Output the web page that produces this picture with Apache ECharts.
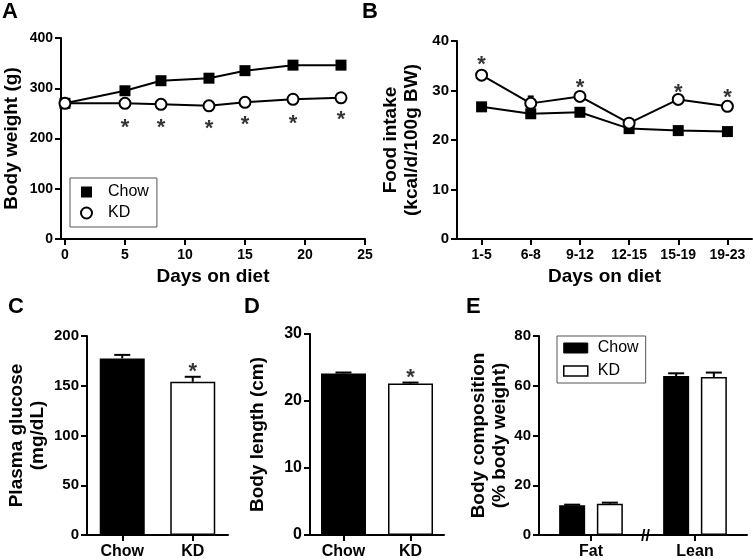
<!DOCTYPE html>
<html>
<head>
<meta charset="utf-8">
<script src="https://cdn.jsdelivr.net/npm/echarts@6/dist/echarts.min.js"></script>
<style>html,body{margin:0;padding:0;background:#fff}#c{width:753px;height:560px}</style>
</head>
<body>
<div id="c"></div>
<script>
// ---- Panel A: body weight ----
const daysA = [0, 5, 8, 12, 15, 19, 23];
const weightChow = [270, 295, 315, 320, 335, 346, 346];
const weightKD = [270, 270, 268, 265, 272, 278, 281];
const weightStarDays = [5, 8, 12, 15, 19, 23];
const weightStarY = [233, 233, 231, 239, 240, 248];
const daysTicks = [0, 5, 10, 15, 20, 25];

// ---- Panel B: food intake ----
const periods = ['1-5', '6-8', '9-12', '12-15', '15-19', '19-23'];
const intakeChow = [26.7, 25.3, 25.6, 22.3, 21.9, 21.7];
const intakeKD = [33.1, 27.4, 28.8, 23.4, 28.2, 26.8];
const intakeChowErr = [0.5, 0.5, 0.5, 0.4, 0.4, 0.4];
const intakeKDErr = [0.8, 1.4, 0.7, 0.6, 0.7, 0.6];
const intakeStarPeriods = ['1-5', '9-12', '15-19', '19-23'];
const intakeStarY = [36.4, 31.8, 30.7, 29.8];

// ---- Panel C: plasma glucose ----
const groups = ['Chow', 'KD'];
const glucose = [177.5, 154];
const glucoseErr = [3.5, 5];
const glucoseStarY = [null, 170];

// ---- Panel D: body length ----
const bodyLength = [24.1, 22.6];
const bodyLengthErr = [0.15, 0.15];
const lengthStarY = [null, 24.4];

// ---- Panel E: body composition ----
const compartments = ['Fat', 'Lean'];
const compChow = [12.0, 63.9];
const compKD = [12.6, 63.5];
const compChowErr = [0.2, 1.1];
const compKDErr = [0.4, 1.8];

const FONT = '"Liberation Sans", Arial, Helvetica, sans-serif';
const chowStyle = { color: '#000', borderColor: '#000', borderWidth: 1.5 };
const kdStyle = { color: '#fff', borderColor: '#000', borderWidth: 1.5 };
const groupStyles = [chowStyle, kdStyle];

function axisCommon(labelSize) {
  return {
    axisLine: { show: true, onZero: false, lineStyle: { color: '#000', width: 2 } },
    axisTick: { show: true, length: 6, lineStyle: { color: '#000', width: 2 } },
    axisLabel: { color: '#000', fontFamily: FONT, fontWeight: 'bold', fontSize: labelSize, margin: 8 },
    splitLine: { show: false },
    nameTextStyle: { color: '#000', fontFamily: FONT, fontWeight: 'bold', fontSize: 19, lineHeight: 21 }
  };
}
function yAxisDef(gi, max, interval, name, gap, labelSize) {
  const a = axisCommon(labelSize);
  return Object.assign(a, {
    type: 'value', gridIndex: gi, min: 0, max: max, interval: interval,
    name: name, nameLocation: 'middle', nameRotate: 90, nameGap: gap
  });
}
function errRender(offsetPx, capHalf) {
  return function (params, api) {
    const x = api.value(0), y = api.value(1), e = api.value(2);
    const p0 = api.coord([x, y]);
    const p1 = api.coord([x, y + e]);
    const cx = p0[0] + offsetPx;
    const st = { stroke: '#000', lineWidth: 2 };
    return {
      type: 'group', children: [
        { type: 'line', shape: { x1: cx, y1: p0[1], x2: cx, y2: p1[1] }, style: st },
        { type: 'line', shape: { x1: cx - capHalf, y1: p1[1], x2: cx + capHalf, y2: p1[1] }, style: st }
      ]
    };
  };
}
function starSeries(xi, yi, data) {
  return {
    type: 'scatter', xAxisIndex: xi, yAxisIndex: yi, data: data,
    symbol: 'circle', symbolSize: 1, itemStyle: { color: 'rgba(0,0,0,0)' },
    silent: true, z: 10,
    label: { show: true, position: 'inside', formatter: '*', color: '#000',
      fontFamily: FONT, fontWeight: 'bold', fontSize: 22, offset: [0, 6] }
  };
}

const barW = 26, barGapPct = 45;
const eOff = (barW + barW * barGapPct / 100) / 2;

const xA = Object.assign(axisCommon(14), {
  type: 'value', gridIndex: 0, min: -0.33, max: 25,
  name: 'Days on diet', nameLocation: 'middle', nameGap: 27
});
xA.axisTick.customValues = daysTicks;
xA.axisLabel.customValues = daysTicks;
xA.axisLabel.margin = 9;

const xB = Object.assign(axisCommon(14), {
  type: 'category', gridIndex: 1, data: periods, boundaryGap: true,
  name: 'Days on diet', nameLocation: 'middle', nameGap: 27
});
xB.axisTick.alignWithLabel = true;
xB.axisLabel.margin = 9;

function barX(gi, cats) {
  const a = Object.assign(axisCommon(16), { type: 'category', gridIndex: gi, data: cats, boundaryGap: true });
  a.axisTick.alignWithLabel = true;
  a.axisLabel.margin = 9;
  return a;
}

const option = {
  animation: false,
  backgroundColor: '#fff',
  textStyle: { fontFamily: FONT },
  title: [
    { text: 'A', left: 2, top: 1 },
    { text: 'B', left: 362, top: 1 },
    { text: 'C', left: 8, top: 296 },
    { text: 'D', left: 244, top: 296 },
    { text: 'E', left: 466, top: 296 }
  ].map(t => Object.assign(t, { padding: 0, textStyle: { fontFamily: FONT, fontWeight: 'bold', fontSize: 22, color: '#000' } })),
  grid: [
    { left: 59, top: 38, width: 306, height: 201 },
    { left: 457, top: 41, width: 295, height: 198 },
    { left: 87, top: 336, width: 141, height: 201 },
    { left: 310, top: 334, width: 134, height: 201 },
    { left: 539, top: 336, width: 208, height: 200 }
  ],
  xAxis: [xA, xB, barX(2, groups), barX(3, groups), barX(4, compartments)],
  yAxis: [
    yAxisDef(0, 400, 100, 'Body weight (g)', 39, 14),
    yAxisDef(1, 40, 10, 'Food intake\n(kcal/d/100g BW)', 35, 15),
    yAxisDef(2, 200, 50, 'Plasma glucose\n(mg/dL)', 39, 15),
    yAxisDef(3, 30, 10, 'Body length (cm)', 42, 16),
    yAxisDef(4, 80, 20, 'Body composition\n(% body weight)', 28, 15)
  ],
  legend: [
    {
      left: 70, top: 178, orient: 'vertical',
      borderColor: '#555', borderWidth: 1, borderRadius: 0,
      padding: [5, 8, 5, 10], itemGap: 3, itemWidth: 11, itemHeight: 11,
      textStyle: { fontFamily: FONT, fontSize: 16, color: '#000', lineHeight: 18, padding: [0, 0, 0, 11] },
      selectedMode: false,
      data: [
        { name: 'Chow', icon: 'rect', itemStyle: { color: '#000', borderColor: '#000', borderWidth: 0 } },
        { name: 'KD', icon: 'circle', itemStyle: { color: '#fff', borderColor: '#000', borderWidth: 2 } }
      ]
    },
    {
      left: 557, top: 336, orient: 'vertical',
      borderColor: '#555', borderWidth: 1, borderRadius: 0,
      padding: [3, 7, 3, 6], itemGap: 5, itemWidth: 24, itemHeight: 10,
      textStyle: { fontFamily: FONT, fontSize: 16, color: '#000', lineHeight: 18, padding: [0, 0, 0, 5] },
      selectedMode: false,
      data: [
        { name: 'Chow', icon: 'rect', itemStyle: { color: '#000', borderColor: '#000', borderWidth: 1 } },
        { name: 'KD', icon: 'rect', itemStyle: { color: '#fff', borderColor: '#000', borderWidth: 1.5 } }
      ]
    }
  ],
  graphic: [
    { type: 'text', left: 641, top: 529, silent: true,
      style: { text: '//', font: 'bold 16px "Liberation Sans", Arial, sans-serif', fill: '#000' } }
  ],
  series: [
    // A
    { name: 'Chow', type: 'line', xAxisIndex: 0, yAxisIndex: 0,
      data: daysA.map((d, i) => [d, weightChow[i]]),
      symbol: 'rect', symbolSize: 11, lineStyle: { color: '#000', width: 2 },
      itemStyle: { color: '#000' }, z: 3 },
    { name: 'KD', type: 'line', xAxisIndex: 0, yAxisIndex: 0,
      data: daysA.map((d, i) => [d, weightKD[i]]),
      symbol: 'circle', symbolSize: 11, showAllSymbol: true, lineStyle: { color: '#000', width: 2 },
      itemStyle: { color: '#fff', borderColor: '#000', borderWidth: 2 }, z: 4 },
    starSeries(0, 0, weightStarDays.map((d, i) => [d, weightStarY[i]])),
    // B error bars (under markers)
    { type: 'custom', xAxisIndex: 1, yAxisIndex: 1, z: 1, silent: true,
      renderItem: errRender(0, 3),
      data: periods.map((p, i) => [i, intakeChow[i], intakeChowErr[i]]) },
    { type: 'custom', xAxisIndex: 1, yAxisIndex: 1, z: 1, silent: true,
      renderItem: errRender(0, 3),
      data: periods.map((p, i) => [i, intakeKD[i], intakeKDErr[i]]) },
    { name: 'Chow B', type: 'line', xAxisIndex: 1, yAxisIndex: 1, data: intakeChow,
      symbol: 'rect', symbolSize: 11, lineStyle: { color: '#000', width: 2 },
      itemStyle: { color: '#000' }, z: 3 },
    { name: 'KD B', type: 'line', xAxisIndex: 1, yAxisIndex: 1, data: intakeKD,
      symbol: 'circle', symbolSize: 11, lineStyle: { color: '#000', width: 2 },
      itemStyle: { color: '#fff', borderColor: '#000', borderWidth: 2 }, z: 4 },
    starSeries(1, 1, intakeStarPeriods.map((p, i) => [p, intakeStarY[i]])),
    // C
    { name: 'glucose', type: 'bar', xAxisIndex: 2, yAxisIndex: 2, barWidth: 45,
      data: glucose.map((v, i) => ({ value: v, itemStyle: groupStyles[i] })) },
    { type: 'custom', xAxisIndex: 2, yAxisIndex: 2, z: 5, silent: true,
      renderItem: errRender(0, 8),
      data: groups.map((g, i) => [i, glucose[i], glucoseErr[i]]) },
    starSeries(2, 2, groups.map((g, i) => [g, glucoseStarY[i]]).filter(d => d[1] != null)),
    // D
    { name: 'length', type: 'bar', xAxisIndex: 3, yAxisIndex: 3, barWidth: 45,
      data: bodyLength.map((v, i) => ({ value: v, itemStyle: groupStyles[i] })) },
    { type: 'custom', xAxisIndex: 3, yAxisIndex: 3, z: 5, silent: true,
      renderItem: errRender(0, 8),
      data: groups.map((g, i) => [i, bodyLength[i], bodyLengthErr[i]]) },
    starSeries(3, 3, groups.map((g, i) => [g, lengthStarY[i]]).filter(d => d[1] != null)),
    // E
    { name: 'Chow', type: 'bar', xAxisIndex: 4, yAxisIndex: 4, barWidth: barW, barGap: barGapPct + '%',
      data: compChow, itemStyle: chowStyle },
    { name: 'KD', type: 'bar', xAxisIndex: 4, yAxisIndex: 4, barWidth: barW, barGap: barGapPct + '%',
      data: compKD, itemStyle: kdStyle },
    { type: 'custom', xAxisIndex: 4, yAxisIndex: 4, z: 5, silent: true,
      renderItem: errRender(-eOff, 8),
      data: compartments.map((c, i) => [i, compChow[i], compChowErr[i]]) },
    { type: 'custom', xAxisIndex: 4, yAxisIndex: 4, z: 5, silent: true,
      renderItem: errRender(eOff, 8),
      data: compartments.map((c, i) => [i, compKD[i], compKDErr[i]]) }
  ]
};

const chart = echarts.init(document.getElementById('c'), null, { renderer: 'canvas' });
chart.setOption(option);
</script>
</body>
</html>
